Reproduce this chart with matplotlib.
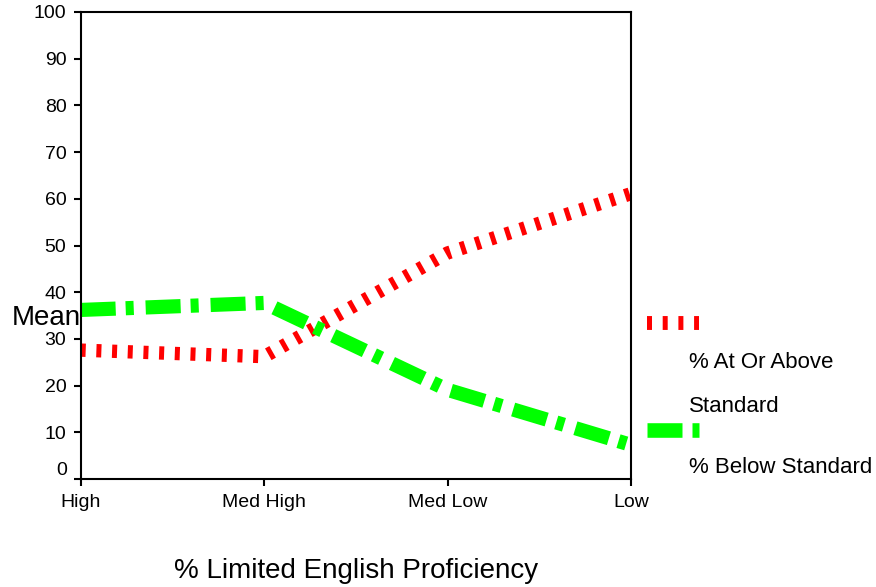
import matplotlib
matplotlib.use("Agg")
import matplotlib.pyplot as plt
from matplotlib.lines import Line2D

plt.rcParams["font.family"] = ["Liberation Sans", "DejaVu Sans"]
plt.rcParams["lines.scale_dashes"] = False

categories = ["High", "Med High", "Med Low", "Low"]
at_or_above = [27.6, 26.2, 48.4, 61.1]
below = [36.2, 37.7, 19.1, 7.3]
y_ticks = [0, 10, 20, 30, 40, 50, 60, 70, 80, 90, 100]

RED = "#FF0000"
GREEN = "#00FF00"
RED_DASH = (0, (3.6, 7.7))
GREEN_DASH = (0, (25.2, 7.2, 5.8, 8.6))

W, H = 876, 587
fig = plt.figure(figsize=(W / 100, H / 100), dpi=100)
ax = fig.add_axes([80.7 / W, 1 - 479 / H, (631 - 80.7) / W, (479 - 12) / H])

x = list(range(len(categories)))
ax.plot(x, at_or_above, color=RED, lw=9.6, linestyle=RED_DASH,
        dash_capstyle="butt", solid_capstyle="butt", clip_on=True)
ax.plot(x, below, color=GREEN, lw=10.2, linestyle=GREEN_DASH,
        dash_capstyle="butt", solid_capstyle="butt", clip_on=True)

ax.set_xlim(0, len(categories) - 1)
ax.set_ylim(0, 100)
ax.set_xticks(x)
ax.set_xticklabels(categories, fontsize=14)
ax.set_yticks(y_ticks)
ax.set_yticklabels(["" if v == 0 else str(v) for v in y_ticks], fontsize=14)

for s in ax.spines.values():
    s.set_linewidth(1.5)
ax.tick_params(axis="both", direction="out", length=5.3, width=1.5)
ax.tick_params(axis="y", pad=5)
ax.tick_params(axis="x", pad=5.5)

# the zero label sits a little above its tick
fig.text(67 / W, 1 - 475 / H, "0", fontsize=14, ha="right", va="baseline")

# axis titles
fig.text(12 / W, 1 - 325 / H, "Mean", fontsize=20, ha="left", va="baseline")
fig.text(356 / W, 1 - 578 / H, "% Limited English Proficiency", fontsize=20,
         ha="center", va="baseline")

# legend to the right of the plot
fig.add_artist(Line2D([647 / W, 699 / W], [1 - 323 / H, 1 - 323 / H],
                      color=RED, lw=10.0, linestyle=RED_DASH,
                      dash_capstyle="butt"))
fig.add_artist(Line2D([647 / W, 699 / W], [1 - 430 / H, 1 - 430 / H],
                      color=GREEN, lw=10.5, linestyle=GREEN_DASH,
                      dash_capstyle="butt"))
fig.text(689 / W, 1 - 368 / H, "% At Or Above", fontsize=16, va="baseline")
fig.text(689 / W, 1 - 411.5 / H, "Standard", fontsize=16, va="baseline")
fig.text(689 / W, 1 - 473 / H, "% Below Standard", fontsize=16, va="baseline")

fig.savefig("out.png", dpi=100)
